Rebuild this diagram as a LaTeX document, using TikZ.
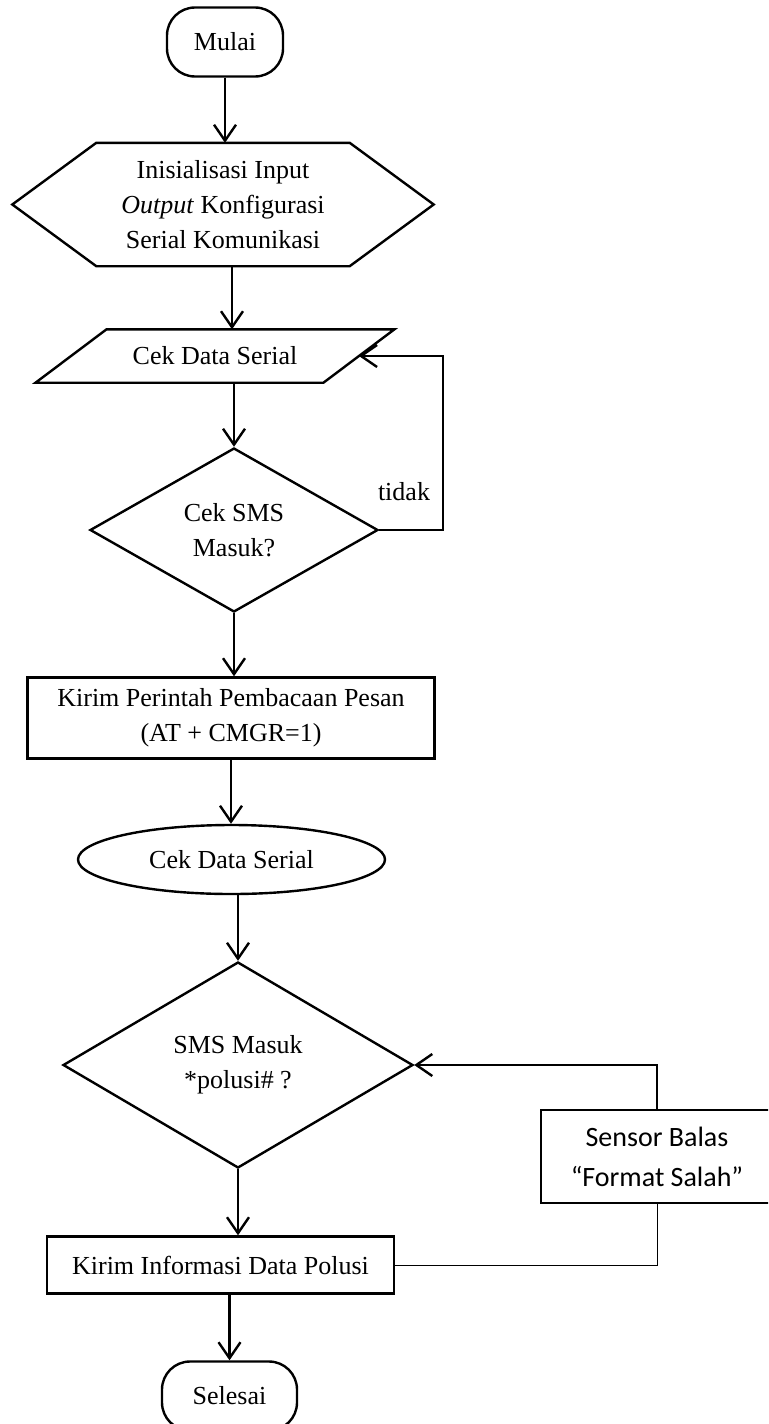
\documentclass[tikz,border=0pt]{standalone}
\usepackage{fontspec}
\setmainfont{Liberation Serif}
\newfontfamily\calibrifont{Carlito}
\usepackage{tikz}
\usetikzlibrary{arrows.meta,shapes.geometric}
\begin{document}
\begin{tikzpicture}[x=0.5pt,y=-0.5pt,line width=1.2pt,
    every node/.style={font=\fontsize{13}{17.5}\selectfont,align=center,inner sep=0pt},
    arr/.style={-{Straight Barb[length=8pt,width=11pt]}},
    terminal/.style={draw,rectangle,rounded corners=14pt},
    process/.style={draw,rectangle},
    decision/.style={draw,diamond},
    oval/.style={draw,ellipse}]
                                     \clip (0,0) rectangle (768,1424);
                                     \node[terminal,minimum width=58pt,minimum height=34.5pt](start)at(225,42){Mulai};
                                     \node[minimum width=125.5pt,minimum height=60.5pt](init)at(223,204.5){Inisialisasi Input\\\textit{Output} Konfigurasi\\Serial Komunikasi};
                                     \draw (init.north west)--(init.north east)--([xshift=42pt]init.east)--(init.south east)--(init.south west)--([xshift=-42pt]init.west)--cycle;
                                     \node[minimum width=142.75pt,minimum height=25.5pt](read1)at(215,356){Cek Data Serial};
                                     \draw ([xshift=17.75pt]read1.north west)--([xshift=17.75pt]read1.north east)--([xshift=-17.75pt]read1.south east)--([xshift=-17.75pt]read1.south west)--cycle;
                                     \node[decision,minimum width=144pt,minimum height=82pt](dec1)at(234,530){Cek SMS\\Masuk?};
                                     \node(no)at(404,492){tidak};
                                     \node[process,minimum width=203.5pt,minimum height=40.5pt](cmd)at(231,718){Kirim Perintah Pembacaan Pesan\\(AT + CMGR=1)};
                                     \node[oval,minimum width=153.5pt,minimum height=34.5pt](read2)at(231.5,859.5){Cek Data Serial};
                                     \node[decision,minimum width=175pt,minimum height=103pt](dec2)at(238,1065){SMS Masuk\\*polusi\# ?};
                                     \node[process,minimum width=173.5pt,minimum height=28.5pt](info)at(220.5,1265){Kirim Informasi Data Polusi};
                                     \node[process,minimum width=116pt,minimum height=46.5pt,font=\calibrifont\fontsize{14}{20}\selectfont](reply)at(657,1156.5){Sensor Balas\\“Format Salah”};
                                     \node[terminal,minimum width=67.5pt,minimum height=34.5pt](stop)at(229.5,1396){Selesai};
                                     \coordinate(loop)at(443,356);
                                     \draw[arr](start)--(start |- init.north);
                                     \draw[arr]([xshift=4.5pt]init.south)--([xshift=4.5pt]init.south |- read1.north);
                                     \draw[arr](dec1 |- read1.south)--(dec1.north);
                                     \draw[arr](dec1.east)-|(loop)--(read1.east);
                                     \draw[arr](dec1)--(dec1 |- cmd.north);
                                     \draw[arr](cmd)--(cmd |- read2.north);
                                     \draw[arr](dec2 |- read2.south)--(dec2.north);
                                     \draw[arr](dec2)--(dec2 |- info.north);
                                     \draw[arr](stop |- info.south)--(stop.north);
                                     \draw[line width=0.5pt](info.east)-|(reply.south);
                                     \draw[arr](reply.north)|-(dec2.east);
                                 \end{tikzpicture}
\end{document}
